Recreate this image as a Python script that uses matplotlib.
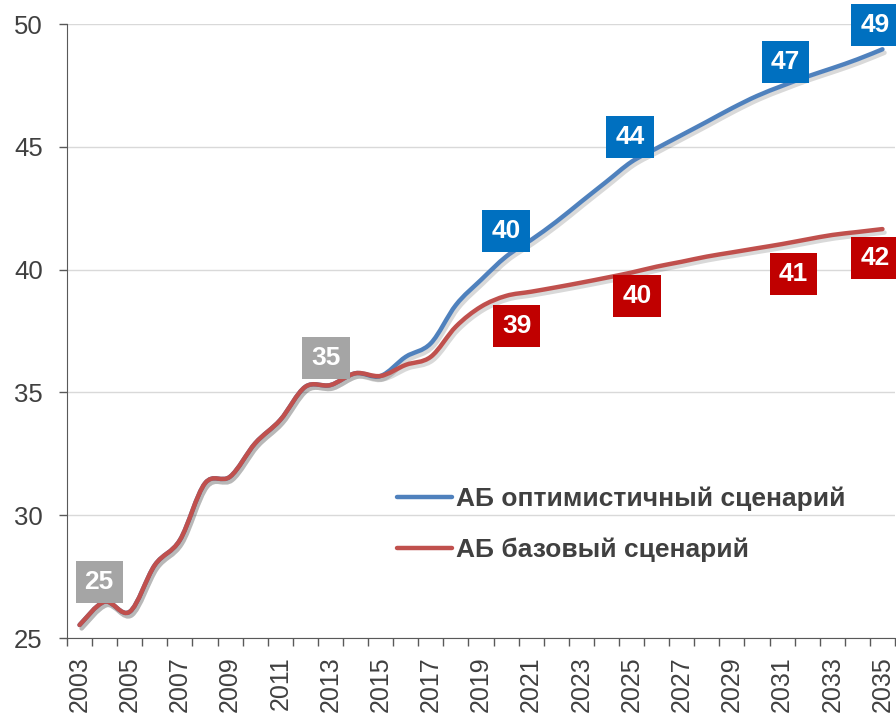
import matplotlib.pyplot as plt
import matplotlib.patheffects as pe
from matplotlib.path import Path
from matplotlib.patches import PathPatch
from matplotlib.lines import Line2D
import numpy as np

plt.rcParams['font.family'] = ['Liberation Sans', 'DejaVu Sans']

years = list(range(2003, 2036))

# shared history 2003-2015, then the two scenarios
history = [25.53, 26.48, 26.07, 27.97, 28.99, 31.30, 31.57, 32.93, 33.88,
           35.23, 35.30, 35.78, 35.67]
optimistic = history + [36.45, 37.00, 38.56, 39.58, 40.53, 41.21, 41.95, 42.77,
                        43.58, 44.39, 44.94, 45.48, 46.02, 46.57, 47.07, 47.48,
                        47.86, 48.20, 48.56, 48.97]
base = history + [36.12, 36.45, 37.68, 38.49, 38.93, 39.10, 39.28, 39.47,
                  39.67, 39.88, 40.12, 40.32, 40.53, 40.70, 40.87, 41.04,
                  41.23, 41.41, 41.53, 41.65]

names = ['АБ оптимистичный сценарий', 'АБ базовый сценарий']

# data labels: (year, series, text)
labels = [(2004, 'base', '25'), (2013, 'base', '35'),
          (2020, 'opt', '40'), (2025, 'opt', '44'), (2031, 'opt', '47'), (2035, 'opt', '49'),
          (2020, 'base', '39'), (2025, 'base', '40'), (2031, 'base', '41'), (2035, 'base', '42')]
label_offsets = [(-5.5, 19.7), (-4.5, 27.5),
                 (0, 25.7), (-1.5, 24.7), (3.5, 24), (-7.5, 24),
                 (10.5, -30), (5.5, -23.3), (11.5, -30), (-7.5, -29)]

line_colors = {'opt': '#4F81BD', 'base': '#C0504D'}
box_colors = {'opt': '#0070C0', 'base': '#C00000'}
gray_box = '#A5A5A5'
text_col = '#404040'


def smooth_path(x, y):
    # Excel-style smoothed line: cubic bezier segments through every point
    x = np.asarray(x, float)
    y = np.asarray(y, float)
    pts = np.column_stack([x, y])
    verts = [pts[0]]
    codes = [Path.MOVETO]
    n = len(pts)
    for i in range(n - 1):
        p0 = pts[max(i - 1, 0)]
        p1 = pts[i]
        p2 = pts[i + 1]
        p3 = pts[min(i + 2, n - 1)]
        c1 = p1 + (p2 - p0) / 6
        c2 = p2 - (p3 - p1) / 6
        verts += [c1, c2, p2]
        codes += [Path.CURVE4] * 3
    return Path(verts, codes)


fig = plt.figure(figsize=(8.96, 7.14), dpi=100)
ax = fig.add_axes([67 / 896, 1 - 638 / 714, 828 / 896, 614 / 714])

shadow = [pe.SimpleLineShadow(offset=(1.5, -2.5), alpha=0.15, rho=0.3), pe.Normal()]
for key, vals, z in [('opt', optimistic, 3), ('base', base, 4)]:
    patch = PathPatch(smooth_path(years, vals), fill=False, ec=line_colors[key], lw=3.2,
                      capstyle='round', joinstyle='round', path_effects=shadow, zorder=z)
    ax.add_patch(patch)

series = {'opt': optimistic, 'base': base}
for (yr, s, txt), (dx, dy) in zip(labels, label_offsets):
    val = series[s][years.index(yr)]
    fc = gray_box if yr < 2016 else box_colors[s]
    ax.annotate(txt, (yr, val), xytext=(dx, dy), textcoords='offset pixels',
                ha='center', va='center', fontsize=19, fontweight='bold', color='white',
                bbox=dict(boxstyle='square,pad=0.34', fc=fc, ec='none'),
                zorder=6, annotation_clip=False)

ax.set_xlim(2002.5, 2035.5)
ax.set_ylim(25, 50)
ax.set_yticks(np.arange(25, 51, 5))
ax.set_xticks(years[::2])
ax.set_xticklabels([str(y) for y in years[::2]], rotation=90)
ax.set_xticks(np.arange(2002.5, 2036, 1), minor=True)
ax.tick_params(axis='x', which='major', length=0, pad=13, labelsize=18, labelcolor=text_col)
ax.tick_params(axis='x', which='minor', length=6, width=1, color='#595959')
ax.tick_params(axis='y', length=6, width=1, color='#595959', pad=11.5,
               labelsize=18.5, labelcolor=text_col)

ax.grid(axis='y', color='#D9D9D9', lw=1)
ax.set_axisbelow(True)
for sp in ['top', 'right']:
    ax.spines[sp].set_visible(False)
for sp in ['left', 'bottom']:
    ax.spines[sp].set_color('#595959')

handles = [Line2D([], [], color=line_colors['opt'], lw=3.2, solid_capstyle='round'),
           Line2D([], [], color=line_colors['base'], lw=3.2, solid_capstyle='round')]
leg = ax.legend(handles, names, loc='upper left', bbox_to_anchor=(0.37, 0.285), frameon=False,
                handlelength=2.08, handletextpad=0.15, labelspacing=1.0,
                prop={'size': 19, 'weight': 'bold'})
for t in leg.get_texts():
    t.set_color(text_col)

plt.savefig('out.png', dpi=100)
